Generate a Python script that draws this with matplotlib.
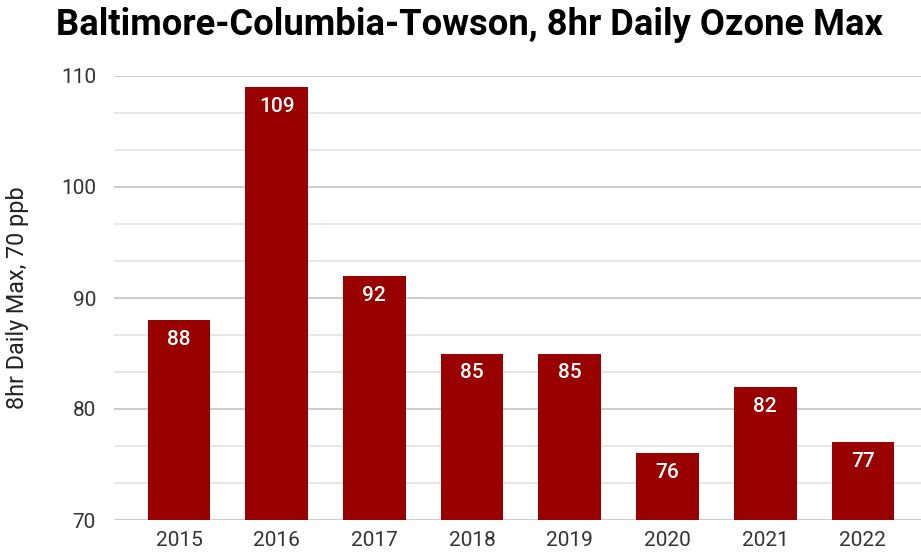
import matplotlib.pyplot as plt
from matplotlib.ticker import MultipleLocator

years = ['2015', '2016', '2017', '2018', '2019', '2020', '2021', '2022']
ozone_max = [88, 109, 92, 85, 85, 76, 82, 77]

plt.rcParams['font.family'] = ['Roboto', 'DejaVu Sans']

fig = plt.figure(figsize=(9.21, 5.52), dpi=100)
ax = fig.add_axes([114 / 921, 1 - 520 / 552, 807 / 921, 444 / 552])

x = range(len(years))
bars = ax.bar(x, [v - 70 for v in ozone_max], bottom=70, width=0.642,
              color='#990000', zorder=3)

for rect, v in zip(bars, ozone_max):
    ax.annotate(str(v), (rect.get_x() + rect.get_width() / 2, v),
                xytext=(0, -14), textcoords='offset points',
                ha='center', va='center', color='white',
                fontsize=15, fontweight='medium', zorder=4)

ax.set_ylim(70, 110)
ax.set_xlim(-0.665, 7.595)
ax.yaxis.set_major_locator(MultipleLocator(10))
ax.yaxis.set_minor_locator(MultipleLocator(10 / 3))
ax.grid(axis='y', which='major', color='#c8c8c8', linewidth=1.3, zorder=0)
ax.grid(axis='y', which='minor', color='#e4e4e4', linewidth=1.3, zorder=0)

ax.set_xticks(list(x))
ax.set_xticklabels(years)
ax.tick_params(axis='both', which='both', length=0, labelsize=15,
               labelcolor='#333333')
ax.tick_params(axis='y', pad=13)
ax.tick_params(axis='x', pad=8)
for s in ax.spines.values():
    s.set_visible(False)

ax.set_ylabel('8hr Daily Max, 70 ppb', fontsize=16.8, color='#222222')
ax.yaxis.set_label_coords(-85 / 807, 0.5)

fig.text(469 / 921, 1 - 25 / 552, 'Baltimore-Columbia-Towson, 8hr Daily Ozone Max',
         ha='center', va='center', fontsize=26.2, fontweight='bold', color='black')

fig.savefig('out.png', dpi=100)
